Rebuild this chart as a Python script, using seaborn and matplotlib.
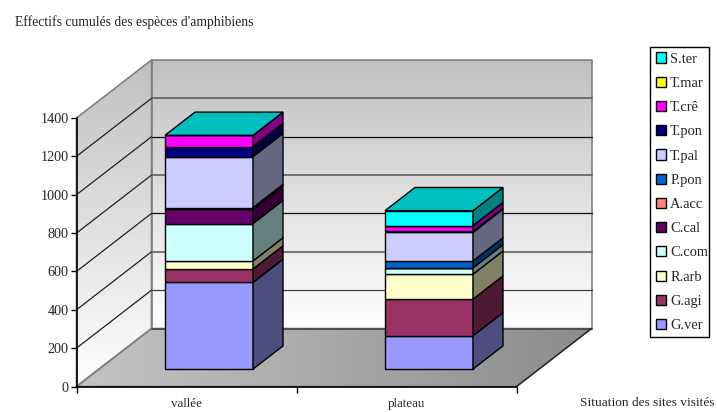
import numpy as np
import matplotlib
matplotlib.use("Agg")
import matplotlib.pyplot as plt
from matplotlib.patches import Patch, Polygon, Rectangle
from matplotlib.transforms import Affine2D
import seaborn as sns

sites = ["vallée", "plateau"]
species = ["G.ver", "G.agi", "R.arb", "C.com", "C.cal", "A.acc",
           "P.pon", "T.pal", "T.pon", "T.crê", "T.mar", "S.ter"]
vallee = [452, 70, 42, 195, 75, 8, 0, 266, 52, 59, 0, 0]
plateau = [174, 191, 130, 33, 0, 0, 36, 149, 5, 30, 0, 78]
colors = ["#9999FF", "#993366", "#FFFFCC", "#CCFFFF", "#660066", "#FF8080",
          "#0066CC", "#CCCCFF", "#000080", "#FF00FF", "#FFFF00", "#00FFFF"]
y_ticks = [0, 200, 400, 600, 800, 1000, 1200, 1400]

sns.set_style("white")
plt.rcParams["font.family"] = ["Liberation Serif", "DejaVu Serif"]

W, H = 717, 412
fig = plt.figure(figsize=(W / 100, H / 100), dpi=100)
x0, x1, ybot, ytop = 76.5, 516.5, 386.5, 118.0
ax = fig.add_axes([x0 / W, 1 - ybot / H, (x1 - x0) / W, (ybot - ytop) / H])

XMIN, XMAX, YMAX = -0.5, 1.5, 1400
# Oblique depth axis: one full unit of depth in data units
DX = 75 / ((x1 - x0) / (XMAX - XMIN))
DY = 58 / ((ybot - ytop) / YMAX)
Z0, Z1 = 0.30, 0.70
BAR_W = 0.40


def proj(x, v, z):
    return x + z * DX, v + z * DY


def shade(hex_color, k):
    r = np.array(matplotlib.colors.to_rgb(hex_color)) * k
    return tuple(r)


def gradient(poly_pts, c_a, c_b, horizontal=False):
    """Fill a polygon with a linear two-colour gradient."""
    t = np.linspace(0, 1, 256)
    ca, cb = np.array(matplotlib.colors.to_rgb(c_a)), np.array(matplotlib.colors.to_rgb(c_b))
    rgb = ca[None, :] * (1 - t[:, None]) + cb[None, :] * t[:, None]
    img = rgb[None, :, :] if horizontal else rgb[:, None, :]
    pts = np.array(poly_pts)
    ext = [pts[:, 0].min(), pts[:, 0].max(), pts[:, 1].min(), pts[:, 1].max()]
    im = ax.imshow(img, extent=ext, origin="upper", aspect="auto",
                   interpolation="bilinear", zorder=0.5)
    clip = Polygon(pts, closed=True, transform=ax.transData, fc="none", ec="none")
    ax.add_patch(clip)
    im.set_clip_box(fig.bbox)
    im.set_clip_path(clip)


# Back wall, side wall and floor
back = [proj(XMIN, 0, 1), proj(XMAX, 0, 1), proj(XMAX, YMAX, 1), proj(XMIN, YMAX, 1)]
side = [proj(XMIN, 0, 0), proj(XMIN, 0, 1), proj(XMIN, YMAX, 1), proj(XMIN, YMAX, 0)]
floor = [proj(XMIN, 0, 0), proj(XMAX, 0, 0), proj(XMAX, 0, 1), proj(XMIN, 0, 1)]
gradient(back, "#C0C0C0", "#FFFFFF")
gradient(side, "#C0C0C0", "#FFFFFF")
gradient(floor, "#C4C4C4", "#8C8C8C", horizontal=True)

wall_pen = dict(color="#808080", lw=1.2, zorder=1, clip_on=False)
for poly in (side, floor, back):
    xs, ys = zip(*(poly + poly[:1]))
    ax.plot(xs, ys, **wall_pen)
xs, ys = zip(proj(XMIN, 0, 1), proj(XMAX, 0, 1))
ax.plot(xs, ys, color="#505050", lw=1.4, zorder=1, clip_on=False)

# Gridlines wrap from the side wall onto the back wall
grid_pens = {200: ("#404040", 0.9), 400: ("#606060", 1.2), 600: ("#101010", 0.9),
             800: ("#606060", 1.2), 1000: ("#101010", 0.9), 1200: ("#606060", 1.2)}
for v in y_ticks[1:-1]:
    xs, ys = zip(proj(XMIN, v, 0), proj(XMIN, v, 1))
    ax.plot(xs, ys, color="#202020", lw=0.9, zorder=1, clip_on=False)
    xs, ys = zip(proj(XMIN, v, 1), proj(XMAX, v, 1))
    ax.plot(xs, ys, color=grid_pens[v][0], lw=grid_pens[v][1], zorder=1, clip_on=False)
xs, ys = zip(proj(XMAX, 0, 0), proj(XMAX, 0, 1))
ax.plot(xs, ys, color="#202020", lw=1.0, zorder=1, clip_on=False)

# Stacked front faces through seaborn, then pushed back along the depth axis
values = np.array([vallee, plateau], dtype=float)
cum = np.cumsum(values, axis=1)
starts = np.hstack([np.zeros((2, 1)), cum[:, :-1]])
for j, name in enumerate(species):
    sns.barplot(x=sites, y=values[:, j], bottom=starts[:, j], order=sites,
                color=colors[j], saturation=1, width=BAR_W, errorbar=None,
                edgecolor="black", linewidth=1.0, zorder=3, ax=ax)
front_tf = Affine2D().translate(Z0 * DX, Z0 * DY) + ax.transData
for p in ax.patches:
    if isinstance(p, Rectangle):
        p.set_transform(front_tf)
        p.set_clip_on(False)

# Side and top faces of each stack
for i in range(len(sites)):
    xr = i + BAR_W / 2
    for j in range(len(species)):
        if values[i, j] <= 0:
            continue
        lo, hi = starts[i, j], cum[i, j]
        ax.add_patch(Polygon([proj(xr, lo, Z0), proj(xr, lo, Z1), proj(xr, hi, Z1), proj(xr, hi, Z0)],
                             closed=True, fc=shade(colors[j], 0.5), ec="black", lw=1.0,
                             zorder=3, clip_on=False))
    top = cum[i, -1]
    xl = i - BAR_W / 2
    ax.add_patch(Polygon([proj(xl, top, Z0), proj(xr, top, Z0), proj(xr, top, Z1), proj(xl, top, Z1)],
                         closed=True, fc=shade(colors[-1], 0.75), ec="black", lw=1.0,
                         zorder=3, clip_on=False))

ax.set_xlim(XMIN, XMAX)
ax.set_ylim(0, YMAX)
ax.set_facecolor("none")
ax.set_xlabel("")
ax.set_ylabel("")
ax.set_yticks(y_ticks)
ax.set_xticks([-0.5, 0.5, 1.5], ["", "", ""])
ax.set_xticks([0, 1], sites, minor=True)
ax.tick_params(axis="y", which="major", left=True, length=4.5, width=1, pad=1, labelsize=10.2, color="black")
ax.tick_params(axis="x", which="major", bottom=True, length=4.5, width=1, color="black")
ax.tick_params(axis="x", which="minor", bottom=False, length=0, pad=8.5, labelsize=9.4)
for name in ("top", "right"):
    ax.spines[name].set_visible(False)
for name in ("left", "bottom"):
    ax.spines[name].set_visible(True)
    ax.spines[name].set_color("black")
    ax.spines[name].set_linewidth(1.2)
    ax.spines[name].set_zorder(2)

fig.text(15 / W, 1 - 22 / H, "Effectifs cumulés des espèces d'amphibiens", fontsize=9.8, va="center", ha="left")
fig.text(580 / W, 1 - 403 / H, "Situation des sites visités", fontsize=9.6, va="center", ha="left")

# Legend frame is narrower than matplotlib's automatic box would be
fig.add_artist(Rectangle((650 / W, 1 - 337 / H), 59 / W, 290.5 / H, transform=fig.transFigure,
                         fc="white", ec="black", lw=1.0, zorder=4))
handles = [Patch(fc=c, ec="black", lw=1.0, label=s) for c, s in zip(colors[::-1], species[::-1])]
leg = fig.legend(handles=handles, loc="upper left", bbox_to_anchor=(656 / W, 1 - 52.5 / H),
                 bbox_transform=fig.transFigure, borderaxespad=0, frameon=False,
                 fontsize=10.4, handlelength=0.7, handleheight=0.7,
                 handletextpad=0.28, labelspacing=0.77, borderpad=0)
leg.set_zorder(5)

fig.savefig("out.png", dpi=100)
